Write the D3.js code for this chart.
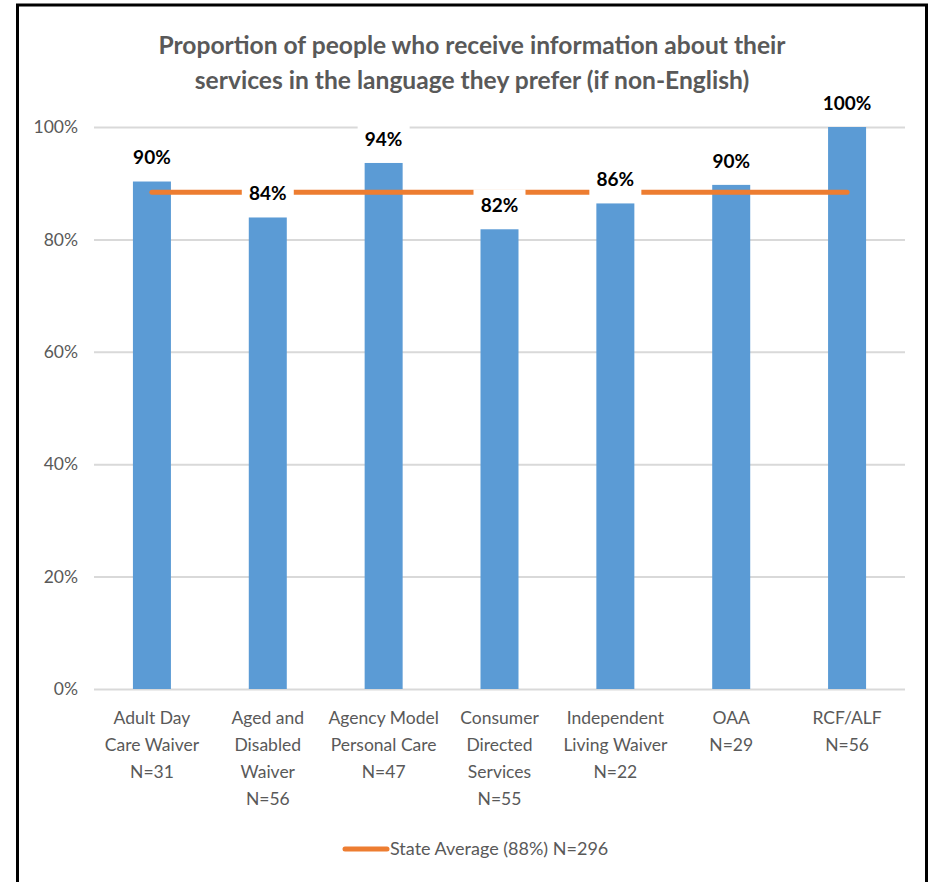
<!DOCTYPE html>
<html>
<head>
<meta charset="utf-8">
<script src="https://cdn.jsdelivr.net/npm/d3@7/dist/d3.min.js"></script>
<style>
  html, body { margin: 0; padding: 0; background: #fff; }
  svg { display: block; }
</style>
</head>
<body>
<svg id="chart" width="934" height="882"></svg>
<script>
// Program categories, split into the lines shown under each bar
const categories = [
  "Adult Day Care Waiver",
  "Aged and Disabled Waiver",
  "Agency Model Personal Care",
  "Consumer Directed Services",
  "Independent Living Waiver",
  "OAA",
  "RCF/ALF"
];
const categoryLines = [
  ["Adult Day", "Care Waiver"],
  ["Aged and", "Disabled", "Waiver"],
  ["Agency Model", "Personal Care"],
  ["Consumer", "Directed", "Services"],
  ["Independent", "Living Waiver"],
  ["OAA"],
  ["RCF/ALF"]
];
const sampleSizes = [31, 56, 47, 55, 22, 29, 56];
// Share of people receiving information in their preferred language
const values = [0.903, 0.839, 0.936, 0.818, 0.864, 0.897, 1.0];
const stateAverage = 0.884;
const stateN = 296;
const yTicks = [0, 0.2, 0.4, 0.6, 0.8, 1.0];
const titleLines = [
  "Proportion of people who receive information about their",
  "services in the language they prefer (if non-English)"
];

const svg = d3.select("#chart");
const font = "Lato, 'Open Sans', sans-serif";
const grey = "#595959";

// Outer frame (left, top, right edges)
svg.append("path")
  .attr("d", "M17.5,890 L17.5,5 L926.5,5 L926.5,890")
  .attr("fill", "none")
  .attr("stroke", "#000")
  .attr("stroke-width", 3);

const x = d3.scaleBand()
  .domain(categories)
  .range([94, 905])
  .paddingInner(0.672)
  .paddingOuter(0.336);

const y = d3.scaleLinear().domain([0, 1]).range([689, 127]);

// Title
svg.append("g").selectAll("text")
  .data(titleLines)
  .join("text")
  .attr("x", 472)
  .attr("y", (d, i) => 54 + i * 35)
  .attr("text-anchor", "middle")
  .attr("font-family", font)
  .attr("font-weight", "bold")
  .attr("font-size", 24.6)
  .attr("fill", grey)
  .text(d => d);

// Gridlines and y tick labels
const yAxis = d3.axisLeft(y)
  .tickValues(yTicks)
  .tickFormat(d3.format(".0%"))
  .tickSize(-(905 - 94))
  .tickPadding(16);

const yg = svg.append("g")
  .attr("transform", "translate(94,0)")
  .call(yAxis);
yg.select(".domain").remove();
yg.selectAll(".tick line")
  .attr("stroke", "#d9d9d9")
  .attr("stroke-width", 2);
yg.selectAll(".tick text")
  .attr("font-family", font)
  .attr("font-size", 17.5)
  .attr("fill", grey);

// Bars
svg.append("g").selectAll("rect")
  .data(values)
  .join("rect")
  .attr("x", (d, i) => x(categories[i]))
  .attr("y", d => y(d))
  .attr("width", x.bandwidth())
  .attr("height", d => y(0) - y(d))
  .attr("fill", "#5b9bd5");

// State average line
const cx = i => x(categories[i]) + x.bandwidth() / 2;
svg.append("line")
  .attr("x1", cx(0))
  .attr("x2", cx(categories.length - 1))
  .attr("y1", y(stateAverage))
  .attr("y2", y(stateAverage))
  .attr("stroke", "#ed7d31")
  .attr("stroke-width", 5)
  .attr("stroke-linecap", "round");

// Value labels on white boxes above each bar
const fmt = d3.format(".0%");
const labels = svg.append("g").selectAll("g")
  .data(values)
  .join("g")
  .attr("transform", (d, i) => `translate(${cx(i)},${y(d) - 24})`);
labels.append("rect")
  .attr("x", -26)
  .attr("y", -16)
  .attr("width", 52)
  .attr("height", 32)
  .attr("fill", "#fff");
labels.append("text")
  .attr("text-anchor", "middle")
  .attr("dy", "0.35em")
  .attr("font-family", font)
  .attr("font-weight", "bold")
  .attr("font-size", 19)
  .attr("fill", "#000")
  .text(d => fmt(d));

// Category labels with sample sizes
const catG = svg.append("g").selectAll("text")
  .data(categories)
  .join("text")
  .attr("text-anchor", "middle")
  .attr("font-family", font)
  .attr("font-size", 17.5)
  .attr("fill", grey);
catG.each(function (d, i) {
  const lines = categoryLines[i].concat(["N=" + sampleSizes[i]]);
  d3.select(this).selectAll("tspan")
    .data(lines)
    .join("tspan")
    .attr("x", cx(i))
    .attr("y", (t, j) => 724 + j * 27)
    .text(t => t);
});

// Legend
const legend = svg.append("g");
legend.append("line")
  .attr("x1", 345).attr("x2", 387)
  .attr("y1", 849).attr("y2", 849)
  .attr("stroke", "#ed7d31")
  .attr("stroke-width", 5)
  .attr("stroke-linecap", "round");
legend.append("text")
  .attr("x", 390)
  .attr("y", 855)
  .attr("font-family", font)
  .attr("font-size", 18)
  .attr("fill", grey)
  .text(`State Average (${fmt(stateAverage)}) N=${stateN}`);
</script>
</body>
</html>
